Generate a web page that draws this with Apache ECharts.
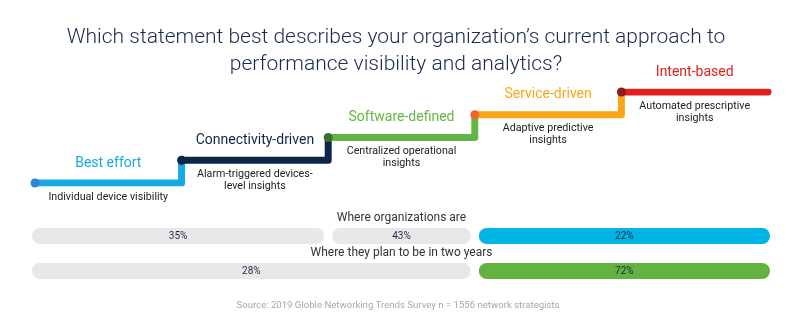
<!DOCTYPE html>
<html><head><meta charset="utf-8">
<script src="https://cdn.jsdelivr.net/npm/echarts@6/dist/echarts.min.js"></script>
<style>html,body{margin:0;padding:0;background:#fff}#c{width:800px;height:334px}</style>
</head><body><div id="c"></div>
<script>
// ---- data ----
const titleLines = ['Which statement best describes your organization\u2019s current approach to', 'performance visibility and analytics?'];
const stages = ['Best effort', 'Connectivity-driven', 'Software-defined', 'Service-driven', 'Intent-based'];
const stageDescriptions = ['Individual device visibility', 'Alarm-triggered devices-\nlevel insights', 'Centralized operational\ninsights', 'Adaptive predictive\ninsights', 'Automated prescriptive\ninsights'];
const stageLevels = [0, 1, 2, 3, 4];
const rowTitles = ['Where organizations are', 'Where they plan to be in two years'];
const currentShare = [35, 43, 22];
const currentStageSpans = [[0, 2], [2, 3], [3, 5]];
const plannedShare = [28, 72];
const plannedStageSpans = [[0, 3], [3, 5]];
const sourceText = 'Source: 2019 Globle Networking Trends Survey n = 1556 network strategists';

// ---- styles ----
const stageColors = ['#17a9e1', '#0d2549', '#62b744', '#fba51a', '#e0201f'];
const stageDotColors = ['#2a85d5', '#0d2549', '#3f6f2c', '#f2622a', '#8e1b1d'];
const currentColors = ['#e8e8e8', '#e8e8e8', '#00b4e4'];
const plannedColors = ['#e8e8e8', '#64b340'];
const FONT = 'Roboto';
const nStages = stages.length;

const stepSeries = stages.map((s, i) => {
  const pts = [{value: [i, stageLevels[i]], symbol: 'circle', symbolSize: 9, itemStyle: {color: stageDotColors[i]}}];
  pts.push({value: [i + 1, stageLevels[i]], symbol: 'none'});
  if (i < nStages - 1) pts.push({value: [i + 1, stageLevels[i + 1]], symbol: 'none'});
  return {
    type: 'line', xAxisIndex: 0, yAxisIndex: 0, data: pts, showSymbol: true,
    lineStyle: {color: stageColors[i], width: 7, cap: 'round', join: 'round'},
    itemStyle: {color: stageDotColors[i]}, z: 2 + i, animation: false, silent: true
  };
});

const stageLabelSeries = {
  type: 'custom', xAxisIndex: 0, yAxisIndex: 0, z: 10, animation: false, silent: true,
  data: stages.map((s, i) => [i + 0.5, stageLevels[i], i]),
  renderItem: function (params, api) {
    const i = api.value(2);
    const p = api.coord([api.value(0), api.value(1)]);
    return {type: 'group', children: [
      {type: 'text', x: p[0], y: p[1] - 20, style: {text: stages[i], fill: stageColors[i], font: '14px ' + FONT, textAlign: 'center', textVerticalAlign: 'middle'}},
      {type: 'text', x: p[0], y: p[1] + 8, style: {text: stageDescriptions[i], fill: '#222', font: '10.7px ' + FONT, textAlign: 'center', textVerticalAlign: 'top', lineHeight: 12}}
    ]};
  }
};

function segData(row, shares, spans, colors) {
  return shares.map((v, k) => [spans[k][0], spans[k][1], row, v, colors[k]]);
}
const barData = segData(0, currentShare, currentStageSpans, currentColors).concat(segData(1, plannedShare, plannedStageSpans, plannedColors));

const barSeries = {
  type: 'custom', xAxisIndex: 1, yAxisIndex: 1, animation: false, silent: true, z: 5,
  data: barData,
  renderItem: function (params, api) {
    const s = api.value(0), e = api.value(1), row = api.value(2);
    const color = barData[params.dataIndex][4];
    const a = api.coord([s, row]), b = api.coord([e, row]);
    const x0 = a[0] + (s === 0 ? -3 : 4);
    const x1 = b[0] + (e === nStages ? 2 : -4);
    const h = 16;
    return {type: 'group', children: [
      {type: 'rect', shape: {x: x0, y: a[1] - h / 2, width: x1 - x0, height: h, r: h / 2}, style: {fill: color}},
      {type: 'text', x: (x0 + x1) / 2, y: a[1], style: {text: api.value(3) + '%', fill: '#1c2a48', font: '10px ' + FONT, textAlign: 'center', textVerticalAlign: 'middle'}}
    ]};
  }
};

const rowTitleSeries = {
  type: 'custom', xAxisIndex: 1, yAxisIndex: 1, animation: false, silent: true, z: 6,
  data: rowTitles.map((t, r) => [nStages / 2, r]),
  renderItem: function (params, api) {
    const p = api.coord([api.value(0), api.value(1)]);
    return {type: 'text', x: p[0], y: p[1] - 18, style: {text: rowTitles[params.dataIndex], fill: '#333', font: '12px ' + FONT, textAlign: 'center', textVerticalAlign: 'middle'}};
  }
};

const chart = echarts.init(document.getElementById('c'), null, {renderer: 'canvas'});
chart.setOption({
  backgroundColor: '#fff',
  animation: false,
  title: [
    {text: titleLines.join('\n'), left: 391, textAlign: 'center', top: 19, textStyle: {fontFamily: FONT, fontSize: 21, fontWeight: 300, color: '#1b2b4d', lineHeight: 27}},
    {text: sourceText, left: 393, textAlign: 'center', top: 296, textStyle: {fontFamily: FONT, fontSize: 9.6, fontWeight: 'normal', color: '#a8a8a8'}}
  ],
  grid: [
    {left: 35, right: 32, top: 92, height: 91},
    {left: 35, right: 32, top: 218.5, height: 70}
  ],
  xAxis: [
    {type: 'value', gridIndex: 0, min: 0, max: nStages, show: false},
    {type: 'value', gridIndex: 1, min: 0, max: nStages, show: false}
  ],
  yAxis: [
    {type: 'value', gridIndex: 0, min: 0, max: nStages - 1, show: false},
    {type: 'category', gridIndex: 1, data: rowTitles, inverse: true, show: false}
  ],
  series: stepSeries.concat([stageLabelSeries, barSeries, rowTitleSeries])
});
</script></body></html>
